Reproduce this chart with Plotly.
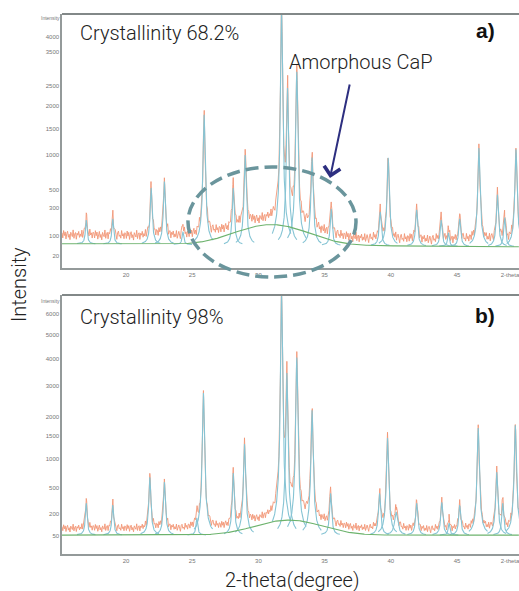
import numpy as np
import plotly.graph_objects as go

# 2-theta window shown on both panels
x_range = [15.17, 49.68]
x_ticks = [20, 25, 30, 35, 40, 45, 49.0]
x_ticktext = ["20", "25", "30", "35", "40", "45", "2-theta"]

# panel a) - crystallinity 68.2 %
a_pos = [17.0, 19.0, 21.9, 22.9, 24.3, 25.9, 28.1, 29.0, 31.75, 32.2, 32.9, 34.05,
         35.5, 39.2, 39.8, 41.95, 43.8, 44.35, 45.2, 46.65, 48.05, 48.6, 49.45]
a_height = [140, 150, 460, 540, 65, 1740, 460, 940, 4900, 2400, 2850, 900,
            240, 215, 900, 235, 150, 65, 160, 1070, 390, 170, 1050]
a_hwhm = [0.065, 0.065, 0.07, 0.07, 0.065, 0.075, 0.07, 0.075, 0.075, 0.07, 0.075, 0.075,
          0.07, 0.075, 0.075, 0.075, 0.075, 0.065, 0.075, 0.075, 0.075, 0.07, 0.075]
a_base = [61, 49]          # fitted background, left / right end
a_extra = [42, 22]         # measured counts above the fitted background
a_hump = [31.0, 2.5, 112]  # amorphous CaP: centre, sigma, height
a_yticks = [20, 100, 300, 500, 1000, 1500, 2000, 2500, 3500, 4000]
a_yrange = [1.3, 69.4]     # sqrt(counts)

# panel b) - crystallinity 98 %
b_pos = [17.0, 19.0, 21.8, 22.9, 25.35, 25.85, 28.1, 28.95, 31.75, 32.15, 32.9, 34.05,
         35.45, 39.15, 39.75, 40.4, 41.95, 43.85, 44.4, 45.2, 46.6, 48.0, 48.45, 49.4]
b_height = [250, 230, 605, 530, 110, 2690, 675, 1255, 7000, 3400, 4000, 2150,
            370, 370, 1400, 160, 250, 260, 70, 230, 1650, 690, 250, 1720]
b_hwhm = [0.065, 0.065, 0.07, 0.07, 0.065, 0.075, 0.07, 0.075, 0.075, 0.07, 0.075, 0.075,
          0.07, 0.075, 0.075, 0.12, 0.075, 0.075, 0.065, 0.075, 0.075, 0.075, 0.07, 0.075]
b_base = [53, 53]
b_extra = [35, 24]
b_hump = [32.3, 2.3, 92]
b_yticks = [50, 200, 500, 1000, 1500, 2000, 3000, 4000, 5000, 6000]
b_yrange = [1.27, 83.5]

# counting noise on the measured pattern, in sqrt(counts)
jitter = [0.6, -0.9, 1.3, -0.2, 0.9, -1.2, 0.4, 1.1, -0.7, 0.2, -1.4, 0.8, 0.1, -0.5,
          1.5, -1.0, 0.3, 0.7, -1.3, 0.5, -0.1, 1.0, -0.8, 0.2, -0.6, 1.2, -1.1, 0.4,
          0.9, -0.3, -1.5, 0.6, 1.1, -0.4, 0.0, -0.9, 1.4, -0.2, 0.5, -1.0, 0.8]

ORANGE = "#ef7d55"
BLUE = "#86c4d4"
GREEN = "#6db36d"
AXIS = "#949a9a"


def lorentz(x, c, h, w):
    return h * w ** 2 / ((x - c) ** 2 + w ** 2)


def line_at(x, ends):
    t = (x - x_range[0]) / (x_range[1] - x_range[0])
    return ends[0] + (ends[1] - ends[0]) * t


def add_panel(fig, row, pos, height, hwhm, base, extra, hump, noise):
    grid = np.union1d(np.arange(x_range[0], x_range[1], 0.06), pos)
    bl = line_at(grid, base)
    hm = hump[2] * np.exp(-0.5 * ((grid - hump[0]) / hump[1]) ** 2)
    pk = sum(lorentz(grid, c, h, w) for c, h, w in zip(pos, height, hwhm))
    obs = np.sqrt(bl + line_at(grid, extra) + hm + pk) + np.resize(jitter, grid.size) * noise

    fig.add_trace(go.Scatter(x=grid, y=obs, mode="lines", line=dict(color=ORANGE, width=0.9),
                             opacity=0.8, hoverinfo="skip"), row=row, col=1)

    px, py = [], []
    for c, h, w in zip(pos, height, hwhm):
        xs = np.arange(c - 0.7, c + 0.7, 0.01)
        ys = np.sqrt(line_at(xs, base) + lorentz(xs, c, h, w))
        px += list(xs) + [None]
        py += list(ys) + [None]
    fig.add_trace(go.Scatter(x=px, y=py, mode="lines", line=dict(color=BLUE, width=1.1),
                             hoverinfo="skip"), row=row, col=1)

    fig.add_trace(go.Scatter(x=grid, y=np.sqrt(bl + hm), mode="lines",
                             line=dict(color=GREEN, width=1.1), hoverinfo="skip"), row=row, col=1)


fig = go.Figure().set_subplots(rows=2, cols=1)
add_panel(fig, 1, a_pos, a_height, a_hwhm, a_base, a_extra, a_hump, 0.9)
add_panel(fig, 2, b_pos, b_height, b_hwhm, b_base, b_extra, b_hump, 0.85)

tick_font = dict(family="Liberation Sans", size=6, color="#777")
for i, (dom, yr, yt) in enumerate([([0.5465, 0.9763], a_yrange, a_yticks),
                                   ([0.0626, 0.5008], b_yrange, b_yticks)], start=1):
    fig.update_xaxes(row=i, col=1, domain=[0.1195, 1.0], range=x_range, tickvals=x_ticks,
                     ticktext=x_ticktext, tickfont=tick_font, showgrid=False, zeroline=False,
                     showline=True, mirror=False, linecolor=AXIS, linewidth=1.5, ticks="",
                     automargin=False, ticklabeloverflow="allow")
    fig.update_yaxes(row=i, col=1, domain=dom, range=yr, tickvals=np.sqrt(yt),
                     ticktext=[str(v) for v in yt], tickfont=tick_font, showgrid=False,
                     zeroline=False, showline=True, mirror=False, linecolor=AXIS, linewidth=1.5,
                     ticks="", automargin=False)
    # frame line along the top of the panel
    fig.add_shape(type="line", xref="paper", yref="paper", x0=0.1195, x1=1.0, y0=dom[1], y1=dom[1],
                  line=dict(color="#828888", width=2))

big = dict(family="Roboto", size=20, color="#222", weight=300)
tag = dict(family="Liberation Sans", size=21, color="#111", weight=700)
tiny = dict(family="Liberation Sans", size=5, color="#777")
notes = [
    ("Crystallinity 68.2%", 0.150, 0.9442, "left", big, 0),
    ("Crystallinity 98%", 0.150, 0.4636, "left", big, 0),
    ("Amorphous CaP", 0.553, 0.8951, "left", big, 0),
    ("a)", 0.9576, 0.9492, "right", tag, 0),
    ("b)", 0.9576, 0.4670, "right", tag, 0),
    ("Intensity", 0.037, 0.518, "center", big, -90),
    ("2-theta(degree)", 0.5626, 0.0186, "center", big, 0),
    ("Intensity", 0.1195, 0.9690, "right", tiny, 0),
    ("Intensity", 0.1195, 0.4910, "right", tiny, 0),
]
for text, x, y, anchor, font, angle in notes:
    fig.add_annotation(text=text, x=x, y=y, xref="paper", yref="paper", xanchor=anchor,
                       yanchor="middle", showarrow=False, font=font, textangle=angle)

# arrow pointing at the amorphous hump
fig.add_annotation(x=330 / 519, y=1 - 178 / 591, xref="paper", yref="paper", ax=20, ay=-95,
                   showarrow=True, arrowhead=4, arrowsize=1.6, arrowwidth=2,
                   arrowcolor="#2d2f80", text="")

# dashed ellipse around the amorphous region
fig.add_shape(type="circle", xref="paper", yref="paper", x0=188 / 519, x1=356 / 519,
              y0=1 - 277 / 591, y1=1 - 167 / 591,
              line=dict(color="#6a959c", width=3.5, dash="13px,6px"))

fig.update_layout(width=519, height=591, margin=dict(l=0, r=0, t=0, b=0),
                  paper_bgcolor="white", plot_bgcolor="white", showlegend=False)

# drop the browser's default page margin so the figure sits at the window corner
fig.write_html("out.html", config={"displayModeBar": False},
               post_script="document.body.style.margin='0';")
